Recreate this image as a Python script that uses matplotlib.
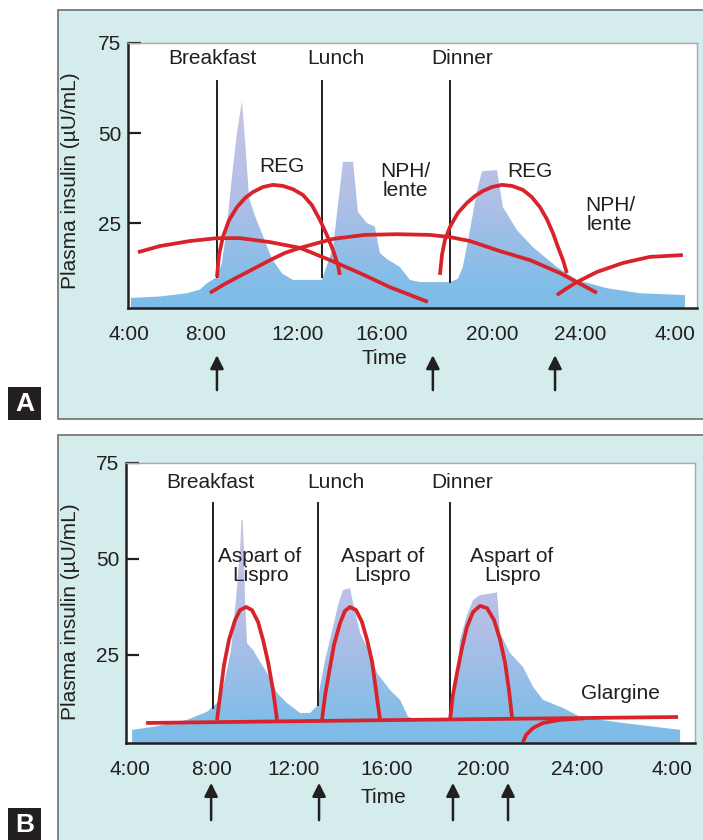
import numpy as np
import matplotlib
matplotlib.use("Agg")
import matplotlib.pyplot as plt
from matplotlib.colors import LinearSegmentedColormap
from matplotlib.patches import Rectangle, Polygon

plt.rcParams['font.family'] = ['Liberation Sans', 'DejaVu Sans']

# ---------------- data (time in hours, insulin in uU/mL) ----------------
tick_labels = ["4:00", "8:00", "12:00", "16:00", "20:00", "24:00", "4:00"]
ticksA = [4.0, 7.38, 11.43, 15.12, 19.96, 23.82, 28.0]
ticksB = [4.0, 7.59, 11.22, 15.38, 19.63, 23.80, 28.0]
yticks = [25, 50, 75]
meals = ["Breakfast", "Lunch", "Dinner"]

# panel A: physiologic plasma insulin profile
fillA_h = [4.09, 5.36, 6.55, 7.12, 7.43, 7.87, 8.09, 8.31, 8.53, 8.75, 8.97, 9.14, 9.28,
           9.54, 9.98, 10.29, 10.73, 11.21, 12.48, 12.97, 13.28, 13.41, 13.85, 14.07,
           14.46, 14.81, 15.03, 15.34, 15.91, 16.35, 16.79, 18.11, 18.46, 18.68, 18.99,
           19.30, 19.52, 20.18, 20.44, 21.06, 21.76, 22.81, 23.69, 25.01, 26.46, 28.44]
fillA_v = [4.2, 4.6, 5.5, 6.5, 8.3, 10, 14, 24, 38, 50, 59, 45, 32,
           27, 20, 15, 11, 9.2, 9.2, 18, 35, 42, 42, 28,
           25, 24, 16.7, 15, 12.8, 9.2, 8.6, 8.6, 9.5, 12.8, 23,
           34, 39.4, 39.7, 29.4, 23, 18.3, 12.8, 9.2, 6.9, 5.5, 5.0]

regA1_h = [7.87, 7.96, 8.13, 8.40, 8.75, 9.10, 9.45, 9.89, 10.33, 10.77, 11.21, 11.65,
           12.04, 12.40, 12.70, 12.97, 13.19, 13.27]
regA1_v = [10.0, 16.1, 21.1, 25.8, 29.4, 31.9, 33.6, 35.0, 35.6, 35.3, 34.4, 32.8,
           30.0, 25.8, 21.7, 17.5, 13.3, 10.6]
regA2_h = [17.67, 17.76, 17.89, 18.11, 18.46, 18.86, 19.21, 19.56, 19.96, 20.40, 20.84,
           21.32, 21.71, 22.07, 22.37, 22.64, 22.86, 23.08, 23.25]
regA2_v = [10.6, 16.1, 20.3, 23.9, 27.8, 30.6, 32.5, 33.9, 35.0, 35.6, 35.3,
           34.2, 32.2, 29.4, 26.1, 22.2, 18.3, 14.7, 11.1]
nphA1_h = [4.40, 5.36, 6.68, 7.87, 8.88, 10.20, 11.52, 12.84, 14.15, 15.47, 17.14]
nphA1_v = [16.9, 18.6, 20.0, 20.8, 20.8, 19.7, 18.1, 14.7, 11.1, 7.2, 3.1]
nphA2_h = [7.56, 8.22, 8.88, 9.54, 10.20, 10.86, 11.52, 12.97, 14.37, 15.78, 17.23,
           18.11, 18.99, 20.31, 21.63, 22.95, 23.69, 24.57]
nphA2_v = [5.6, 8.1, 10.3, 12.5, 14.7, 16.7, 18.1, 20.6, 21.7, 21.9, 21.7,
           21.1, 20.0, 17.2, 14.7, 11.1, 8.6, 5.6]
nphA3_h = [22.81, 23.25, 23.69, 24.57, 25.71, 26.90, 28.35]
nphA3_v = [5.0, 6.9, 8.6, 11.4, 13.9, 15.6, 16.1]

mealsA_h = [7.87, 12.48, 18.11]
mealsA_bottom = [10.0, 10.0, 8.6]
arrowsA_h = [7.87, 17.36, 22.73]

# panel B
fillB_h = [4.09, 5.02, 6.52, 7.41, 7.85, 8.07, 8.34, 8.47, 8.69, 8.87, 8.96, 9.05, 9.09,
           9.18, 9.45, 9.76, 10.07, 10.51, 10.95, 11.53, 11.97, 12.28, 12.41, 12.64,
           12.99, 13.21, 13.43, 13.74, 13.88, 14.19, 14.63, 14.94, 15.51, 15.96, 16.31,
           16.84, 18.17, 18.30, 18.48, 18.61, 18.92, 19.19, 19.50, 20.08, 20.25, 20.39,
           20.83, 21.40, 21.85, 22.29, 23.18, 23.93, 25.83, 28.36]
fillB_v = [5.5, 6.3, 8.1, 10.2, 12.5, 15.4, 22.4, 26.3, 39.3, 52.3, 63.5, 52.3, 39.3,
           28.1, 26.3, 23.2, 20.3, 15.1, 12.5, 9.9, 9.9, 11.7, 16.7, 23.7,
           32.3, 38.0, 41.9, 42.4, 38.5, 30.7, 25.5, 20.3, 15.9, 13.3, 8.9,
           8.1, 8.1, 11.5, 18.5, 28.9, 35.4, 39.3, 40.6, 41.1, 41.4, 30.7,
           25.5, 21.9, 16.7, 13.3, 11.2, 8.9, 7.3, 5.5]

aspart1_h = [7.85, 7.99, 8.16, 8.38, 8.65, 8.87, 9.14, 9.40, 9.67, 9.89, 10.11, 10.33, 10.51]
aspart2_h = [12.50, 12.64, 12.81, 13.03, 13.30, 13.52, 13.74, 14.01, 14.27, 14.50, 14.72,
             14.89, 15.07]
aspart3_h = [18.17, 18.30, 18.48, 18.70, 18.92, 19.19, 19.50, 19.81, 20.12, 20.39, 20.61,
             20.78, 20.92]
aspart1_v = [8.1, 14.6, 22.4, 28.9, 34.1, 36.7, 37.5, 36.7, 33.6, 28.9, 23.2, 15.9, 8.1]
aspart2_v = [8.1, 14.6, 20.3, 27.6, 33.3, 36.5, 37.5, 36.7, 33.6, 28.9, 23.2, 15.9, 8.1]
aspart3_v = [8.1, 14.6, 20.3, 26.8, 32.3, 36.2, 37.8, 37.2, 34.1, 28.9, 22.9, 15.9, 8.6]
glargine_h = [4.71, 16.4, 28.27]
glargine_v = [7.3, 8.1, 8.85]
glargine2_h = [21.40, 21.54, 21.85, 22.29, 23.04, 24.1]
glargine2_v = [2.3, 4.2, 6.0, 7.3, 8.1, 8.5]

mealsB_h = [7.68, 12.33, 18.17]
mealsB_bottom = [11.2, 12.0, 8.1]
arrowsB_h = [7.59, 12.37, 18.30, 20.74]

# ---------------- drawing ----------------
W, H = 703, 840
fig = plt.figure(figsize=(W / 100, H / 100), dpi=100)

RED = '#d8232a'
TXT = '#231f20'
FS = 15


def px_axes(l, t, r, b):
    return fig.add_axes([l / W, 1 - b / H, (r - l) / W, (b - t) / H])


def box(l, t, r, b, **kw):
    fig.patches.append(Rectangle((l / W, 1 - b / H), (r - l) / W, (b - t) / H,
                                 transform=fig.transFigure, **kw))


box(58, 10, 720, 419, facecolor='#d4ecec', edgecolor='#6d6e70', lw=1.2, zorder=-5)
box(58, 435, 720, 860, facecolor='#d4ecec', edgecolor='#6d6e70', lw=1.2, zorder=-5)
for lab, top in [("A", 387), ("B", 808)]:
    box(8, top, 41, top + 33, facecolor='#231f20', edgecolor='none', zorder=-5)
    fig.text(24.5 / W, 1 - (top + 17) / H, lab, color='white', fontsize=19,
             fontweight='bold', ha='center', va='center')

cmap = LinearSegmentedColormap.from_list('ins', [(0, '#7dbde8'), (0.12, '#80bde8'),
                                                 (0.55, '#b3bfe6'), (1, '#c8c5e7')])


def setup(ax, xlim, ylim, ticks):
    ax.set_xlim(*xlim)
    ax.set_ylim(*ylim)
    ax.set_xticks(ticks)
    ax.set_xticklabels(tick_labels)
    ax.set_yticks(yticks)
    ax.tick_params(axis='x', length=0, pad=12, labelsize=FS, labelcolor=TXT)
    ax.tick_params(axis='y', direction='in', length=9, width=1.6, pad=5,
                   labelsize=FS, labelcolor=TXT, color='#231f20')
    for s in ['left', 'bottom']:
        ax.spines[s].set_color('#231f20')
        ax.spines[s].set_linewidth(1.8)
    for s in ['top', 'right']:
        ax.spines[s].set_color('#a7a9ac')
        ax.spines[s].set_linewidth(1.0)
    ax.set_ylabel("Plasma insulin (µU/mL)", fontsize=FS, color=TXT)


def gradient_fill(ax, hs, vs, ylim):
    xl = ax.get_xlim()
    grad = np.linspace(0, 1, 256).reshape(-1, 1)
    im = ax.imshow(grad, cmap=cmap, origin='lower', aspect='auto',
                   extent=[xl[0], xl[1], 0, 60], zorder=1)
    pts = [(hs[0], ylim[0])] + list(zip(hs, vs)) + [(hs[-1], ylim[0])]
    poly = Polygon(pts, closed=True, facecolor='none', edgecolor='none',
                   transform=ax.transData)
    ax.add_patch(poly)
    im.set_clip_path(poly)


def arrows(ax, hs, y0, y1):
    for h in hs:
        ax.annotate('', xy=(h, y1), xytext=(h, y0), annotation_clip=False,
                    arrowprops=dict(arrowstyle='-|>', color='#231f20', lw=1.8,
                                    mutation_scale=20, shrinkA=0, shrinkB=0))


def red_line(ax, hs, vs):
    ax.plot(hs, vs, color=RED, lw=2.7, solid_capstyle='butt',
            solid_joinstyle='round', zorder=4)


# ---- Panel A ----
axA = px_axes(128, 43, 697, 308)
ylimA = (1.4, 75)
setup(axA, (3.96, 28.97), ylimA, ticksA)
axA.yaxis.set_label_coords(-0.084, 0.48)
gradient_fill(axA, fillA_h, fillA_v, ylimA)
axA.set_xlim(3.96, 28.97)
axA.set_ylim(*ylimA)

for h, b in zip(mealsA_h, mealsA_bottom):
    axA.plot([h, h], [64.4, b], color='#231f20', lw=1.4, zorder=3)
for name, h in zip(meals, [7.65, 13.10, 18.64]):
    axA.text(h, 70.8, name, fontsize=FS, color=TXT, ha='center', va='center')

for hs, vs in [(regA1_h, regA1_v), (regA2_h, regA2_v), (nphA1_h, nphA1_v),
               (nphA2_h, nphA2_v), (nphA3_h, nphA3_v)]:
    red_line(axA, hs, vs)

axA.text(10.73, 40.6, "REG", fontsize=FS, color=TXT, ha='center', va='center')
axA.text(21.63, 39.2, "REG", fontsize=FS, color=TXT, ha='center', va='center')
axA.text(16.13, 36.7, "NPH/\nlente", fontsize=FS, color=TXT, ha='center',
         va='center', linespacing=1.05)
axA.text(25.14, 27.2, "NPH/\nlente", fontsize=FS, color=TXT, ha='center',
         va='center', linespacing=1.05)
axA.text(15.25, -12.5, "Time", fontsize=FS, color=TXT, ha='center', va='center')
arrows(axA, arrowsA_h, -21.4, -11.7)

# ---- Panel B ----
axB = px_axes(126, 463, 695, 743)
ylimB = (2.08, 75)
setup(axB, (3.82, 29.02), ylimB, ticksB)
axB.yaxis.set_label_coords(-0.081, 0.47)
gradient_fill(axB, fillB_h, fillB_v, ylimB)
axB.set_xlim(3.82, 29.02)
axB.set_ylim(*ylimB)

for h, b in zip(mealsB_h, mealsB_bottom):
    axB.plot([h, h], [64.6, b], color='#231f20', lw=1.4, zorder=3)
for name, h in zip(meals, [7.54, 13.12, 18.70]):
    axB.text(h, 69.8, name, fontsize=FS, color=TXT, ha='center', va='center')

for hs, vs in [(glargine_h, glargine_v), (glargine2_h, glargine2_v),
               (aspart1_h, aspart1_v), (aspart2_h, aspart2_v), (aspart3_h, aspart3_v)]:
    red_line(axB, hs, vs)

for h in [9.76, 15.20, 20.92]:
    axB.text(h, 48.2, "Aspart of\nLispro", fontsize=FS, color=TXT, ha='center',
             va='center', linespacing=1.05)
axB.text(25.70, 15.1, "Glargine", fontsize=FS, color=TXT, ha='center', va='center')
axB.text(15.20, -12.2, "Time", fontsize=FS, color=TXT, ha='center', va='center')
arrows(axB, arrowsB_h, -18.0, -8.3)

fig.savefig("out.png", dpi=100)
